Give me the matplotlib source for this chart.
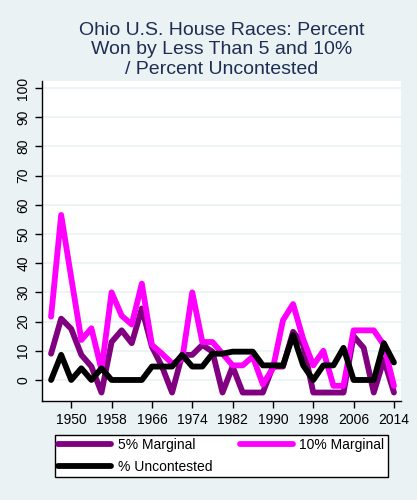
import matplotlib
matplotlib.use("Agg")
import matplotlib.pyplot as plt

# Election years and series values (percent of Ohio House races)
years = [1946, 1948, 1950, 1952, 1954, 1956, 1958, 1960, 1962, 1964,
         1966, 1968, 1970, 1972, 1974, 1976, 1978, 1980, 1982, 1984,
         1986, 1988, 1990, 1992, 1994, 1996, 1998, 2000, 2002, 2004,
         2006, 2008, 2010, 2012, 2014]
marg5 = [9, 21, 17.5, 8.6, 4.6, -4.3, 13, 17, 12.6, 24.5,
         11.4, 4.6, -4.3, 8.6, 8.6, 12, 9.7, -4.3, 4.6, -4.3,
         -4.3, -4.3, 4.6, 4.6, 16.5, 12, -4.3, -4.3, -4.3, -4.3,
         15, 11, -4.3, 7, -4.3]
marg10 = [21.7, 56.5, 35, 13.7, 17.7, 3.5, 30, 22, 19, 33,
          12, 9, 5.7, 7, 30, 13, 13, 9, 5, 5,
          8, -1.5, 4, 20.5, 26, 14, 5, 10, -2, -2,
          17, 17, 17, 12, -2]
uncont = [0, 8.6, 0, 4, 0, 4, 0, 0, 0, 0,
          4.6, 4.6, 4.6, 8.6, 4.6, 4.6, 9, 9, 9.7, 9.7,
          9.7, 5, 5, 5, 15.4, 5, 0, 5, 5, 11,
          0, 0, 0, 12.6, 6]
xticks = [1950, 1958, 1966, 1974, 1982, 1990, 1998, 2006, 2014]
yticks = [0, 10, 20, 30, 40, 50, 60, 70, 80, 90, 100]

bg = "#EAF2F3"
plt.rcParams['font.family'] = ['Liberation Sans', 'DejaVu Sans']

fig = plt.figure(figsize=(4.17, 5.0), dpi=100, facecolor=bg)
ax = fig.add_axes([42/417, 1-401/500, (401-42)/417, (401-81)/500])
ax.set_facecolor("white")

lw = 4.2
l1, = ax.plot(years, marg5, color="#800080", lw=lw, solid_joinstyle="round",
              solid_capstyle="round", label="5% Marginal")
l2, = ax.plot(years, marg10, color="#FF00FF", lw=lw, solid_joinstyle="round",
              solid_capstyle="round", label="10% Marginal")
l3, = ax.plot(years, uncont, color="black", lw=lw, solid_joinstyle="round",
              solid_capstyle="round", label="% Uncontested")

ax.set_xlim(1944.2, 2015.4)
ax.set_ylim(-7.2, 102.4)
ax.set_xticks(xticks)
ax.set_yticks(yticks)
ax.grid(axis="y", color=bg, lw=1.2)
ax.set_axisbelow(True)
for s in ["top", "right"]:
    ax.spines[s].set_visible(False)
for s in ["left", "bottom"]:
    ax.spines[s].set_color("black")
    ax.spines[s].set_linewidth(1.0)
ax.tick_params(direction="out", length=5, width=1, labelsize=10, colors="black")
plt.setp(ax.get_yticklabels(), rotation=90, va="center")

ax.set_title("Ohio U.S. House Races: Percent\nWon by Less Than 5 and 10%\n/ Percent Uncontested",
             fontsize=14, color="#1E2D53", linespacing=1.2, pad=5)

leg = fig.legend([l1, l3, l2], ["5% Marginal", "% Uncontested", "10% Marginal"],
                 ncol=2, loc="center", mode="expand",
                 bbox_to_anchor=(48/417, 1-479/500, 347/417, 46/500),
                 fontsize=10, handlelength=3.8, handletextpad=0.5,
                 labelspacing=0.55, borderpad=0.25, fancybox=False,
                 edgecolor="black", facecolor="white", framealpha=1)
leg.get_frame().set_linewidth(1.0)

fig.savefig("out.png", dpi=100, facecolor=bg)
